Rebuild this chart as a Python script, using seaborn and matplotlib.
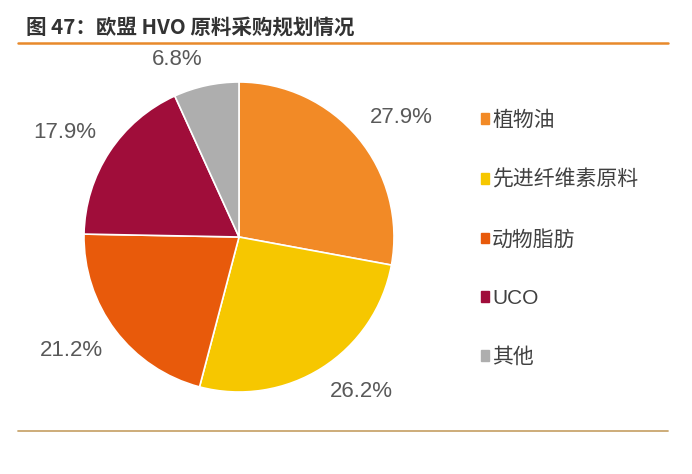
import numpy as np
import matplotlib.pyplot as plt
import matplotlib.patches as mpatches
import seaborn as sns

categories = ["植物油", "先进纤维素原料", "动物脂肪", "UCO", "其他"]
shares = [27.9, 26.2, 21.2, 17.9, 6.8]
colors = ["#F28A26", "#F6C700", "#E85A0B", "#A00D3A", "#AEAEAE"]
title = "图 47：欧盟 HVO 原料采购规划情况"

sns.set_theme(style="white")
plt.rcParams["font.family"] = ["Liberation Sans", "Noto Sans CJK SC", "DejaVu Sans"]
palette = sns.color_palette(colors)

fig = plt.figure(figsize=(6.92, 4.74), dpi=100)

# pie axes, square in pixels
ax = fig.add_axes([84 / 692, (474 - 392) / 474, 310 / 692, 310 / 474])
wedges, texts = ax.pie(shares, colors=palette, startangle=90, counterclock=False,
                       wedgeprops=dict(edgecolor="white", linewidth=1.2),
                       labels=[f"{v:.1f}%" for v in shares], labeldistance=1.1,
                       textprops=dict(fontsize=16, color="#595959"))

# outside-end labels: box corner sits on the label circle
for t in texts:
    x, y = t.get_position()
    t.set_verticalalignment("bottom" if y > 0 else "top")
ax.set_xlim(-1, 1)
ax.set_ylim(-1, 1)
ax.axis("off")

handles = [mpatches.Patch(color=c, label=l) for c, l in zip(palette, categories)]
fig.legend(handles=handles, loc="upper left", bbox_to_anchor=(462 / 692, 1 - 92 / 474),
           frameon=False, fontsize=15, handlelength=0.4, handleheight=0.4,
           handletextpad=0.15, labelspacing=1.9, labelcolor="#404040")

# title and rules
fig.text(26 / 692, 1 - 27 / 474, title, fontsize=14.8, fontweight="bold", color="#333333",
         va="center", ha="left", family=["Noto Sans CJK SC", "DejaVu Sans"])
fig.add_artist(plt.Line2D([18 / 692, 668 / 692], [1 - 43 / 474] * 2, color="#E8892B", linewidth=1.8))
fig.add_artist(plt.Line2D([18 / 692, 668 / 692], [1 - 431 / 474] * 2, color="#C9A66E", linewidth=1.3))

plt.savefig("out.png", dpi=100)
